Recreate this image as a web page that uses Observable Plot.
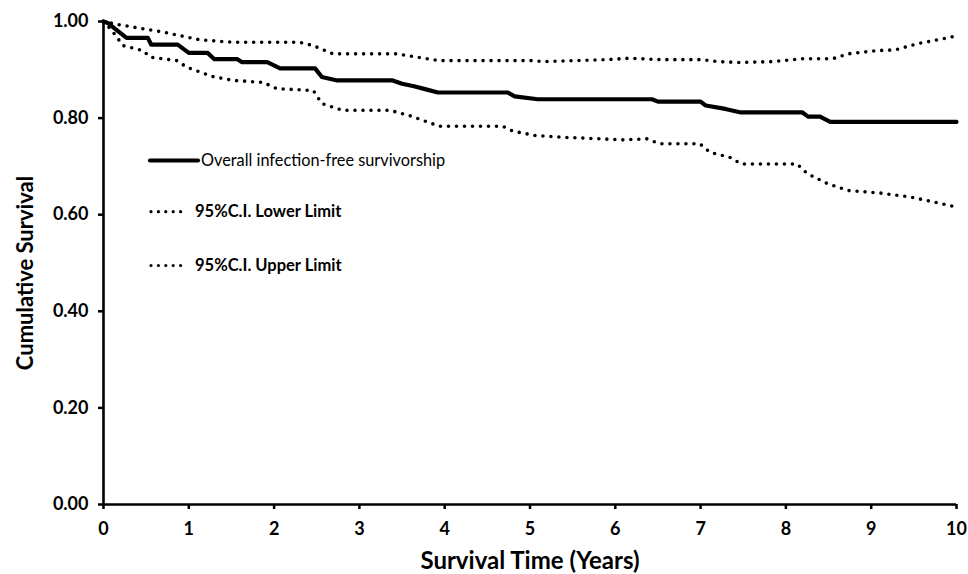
<!DOCTYPE html>
<html>
<head>
<meta charset="utf-8">
<script src="https://cdn.jsdelivr.net/npm/d3@7"></script>
<script src="https://cdn.jsdelivr.net/npm/@observablehq/plot@0.6"></script>
<style>
  html, body { margin: 0; padding: 0; background: #fff; }
  #chart { position: relative; width: 968px; height: 574px; }
</style>
</head>
<body>
<div id="chart"></div>
<script>
// ---- Data ----
const survivalT = [0, 0.05, 0.1, 0.2, 0.27, 0.52, 0.56, 0.87, 1.0, 1.22, 1.3, 1.57, 1.62, 1.92, 2.07, 2.48, 2.56, 2.74, 3.39, 3.5, 3.64, 3.77, 3.92, 4.74, 4.82, 5.09, 6.43, 6.5, 7.0, 7.06, 7.29, 7.46, 8.19, 8.26, 8.4, 8.52, 10.0];
const survivalS = [1.0, 0.997, 0.99, 0.976, 0.966, 0.966, 0.952, 0.952, 0.935, 0.935, 0.922, 0.922, 0.916, 0.916, 0.903, 0.903, 0.885, 0.878, 0.878, 0.871, 0.866, 0.86, 0.853, 0.853, 0.845, 0.839, 0.839, 0.834, 0.834, 0.826, 0.819, 0.812, 0.812, 0.803, 0.803, 0.792, 0.792];

const lowerT = [0, 0.1, 0.23, 0.46, 0.55, 0.86, 0.98, 1.28, 1.52, 1.87, 2.03, 2.46, 2.56, 2.8, 3.36, 3.59, 3.94, 4.68, 4.8, 5.06, 5.43, 6.09, 6.37, 6.52, 6.99, 7.11, 7.34, 7.48, 8.13, 8.25, 8.49, 8.73, 9.1, 9.48, 10.0];
const lowerS = [1.0, 0.981, 0.95, 0.94, 0.926, 0.919, 0.905, 0.886, 0.878, 0.874, 0.861, 0.857, 0.83, 0.816, 0.816, 0.805, 0.783, 0.783, 0.773, 0.764, 0.76, 0.755, 0.757, 0.747, 0.747, 0.729, 0.719, 0.705, 0.705, 0.685, 0.664, 0.65, 0.645, 0.636, 0.616];

const upperT = [0, 0.16, 0.43, 0.7, 1.13, 1.52, 2.3, 2.46, 2.69, 3.44, 3.79, 3.94, 5.03, 5.15, 5.9, 6.17, 6.52, 7.02, 7.19, 7.46, 7.85, 8.19, 8.55, 8.73, 9.08, 9.28, 9.54, 9.72, 10.0];
const upperS = [1.0, 0.994, 0.986, 0.978, 0.962, 0.957, 0.957, 0.95, 0.933, 0.933, 0.923, 0.919, 0.919, 0.917, 0.921, 0.924, 0.921, 0.921, 0.917, 0.915, 0.917, 0.923, 0.923, 0.933, 0.94, 0.941, 0.954, 0.96, 0.97];

const xTicks = [0, 1, 2, 3, 4, 5, 6, 7, 8, 9, 10];
const yTicks = [0, 0.2, 0.4, 0.6, 0.8, 1.0];
const xLabel = "Survival Time (Years)";
const yLabel = "Cumulative Survival";
const legendLabels = ["Overall infection-free survivorship", "95%C.I. Lower Limit", "95%C.I. Upper Limit"];

// ---- Tables built from the arrays ----
const toRows = (T, S) => T.map((t, i) => ({t, s: S[i]}));
const survival = toRows(survivalT, survivalS);
const lower = toRows(lowerT, lowerS);
const upper = toRows(upperT, upperS);

const FONT = "Lato, 'DejaVu Sans', sans-serif";
const dotted = {x: "t", y: "s", stroke: "black", strokeWidth: 3.6, strokeDasharray: "0 8", strokeLinecap: "round", curve: "linear"};

const svg = Plot.plot({
  width: 968,
  height: 574,
  marginLeft: 103,
  marginRight: 12,
  marginTop: 21,
  marginBottom: 70,
  x: {domain: [0, 10]},
  y: {domain: [0, 1]},
  style: {fontFamily: FONT, fontSize: "18px", fontWeight: "bold", color: "black", background: "white"},
  marks: [
    Plot.axisY({ticks: yTicks, tickFormat: d3.format(".2f"), tickSize: 5, tickPadding: 10, strokeWidth: 2.5, label: null}),
    Plot.axisX({ticks: xTicks, tickFormat: d3.format("d"), tickSize: 5, tickPadding: 13, strokeWidth: 2.5, label: null}),
    Plot.ruleX([0], {stroke: "black", strokeWidth: 2.6}),
    Plot.ruleY([0], {stroke: "black", strokeWidth: 2.6}),
    Plot.line(lower, dotted),
    Plot.line(upper, dotted),
    Plot.line(survival, {x: "t", y: "s", stroke: "black", strokeWidth: 4.2, strokeLinejoin: "round"}),
    Plot.text([xLabel], {frameAnchor: "bottom", dy: 64, fontSize: 24, textAnchor: "middle", text: d => d}),
    Plot.text([yLabel], {frameAnchor: "left", dx: -78, dy: 10, rotate: -90, fontSize: 22, textAnchor: "middle", text: d => d})
  ]
});

// ---- Legend inside the plot area ----
const lg = d3.select(svg).append("g").attr("font-family", FONT).attr("fill", "black").attr("text-anchor", "start");
const rows = [
  {y: 160.5, x1: 150, x2: 198, tx: 201, solid: true, weight: "normal", size: 16.3},
  {y: 211.7, x1: 151, x2: 188, tx: 195, solid: false, weight: "bold", size: 16.5},
  {y: 265.5, x1: 151, x2: 188, tx: 195, solid: false, weight: "bold", size: 16.5}
];
rows.forEach((r, i) => {
  const ln = lg.append("line").attr("x1", r.x1).attr("x2", r.x2).attr("y1", r.y).attr("y2", r.y).attr("stroke", "black");
  if (r.solid) ln.attr("stroke-width", 4.2).attr("stroke-linecap", "round");
  else ln.attr("stroke-width", 3.2).attr("stroke-dasharray", "0 7.4").attr("stroke-linecap", "round");
  lg.append("text").attr("x", r.tx).attr("y", r.y).attr("dy", "0.35em")
    .attr("font-size", r.size).attr("font-weight", r.weight).text(legendLabels[i]);
});

document.getElementById("chart").appendChild(svg);
</script>
</body>
</html>
